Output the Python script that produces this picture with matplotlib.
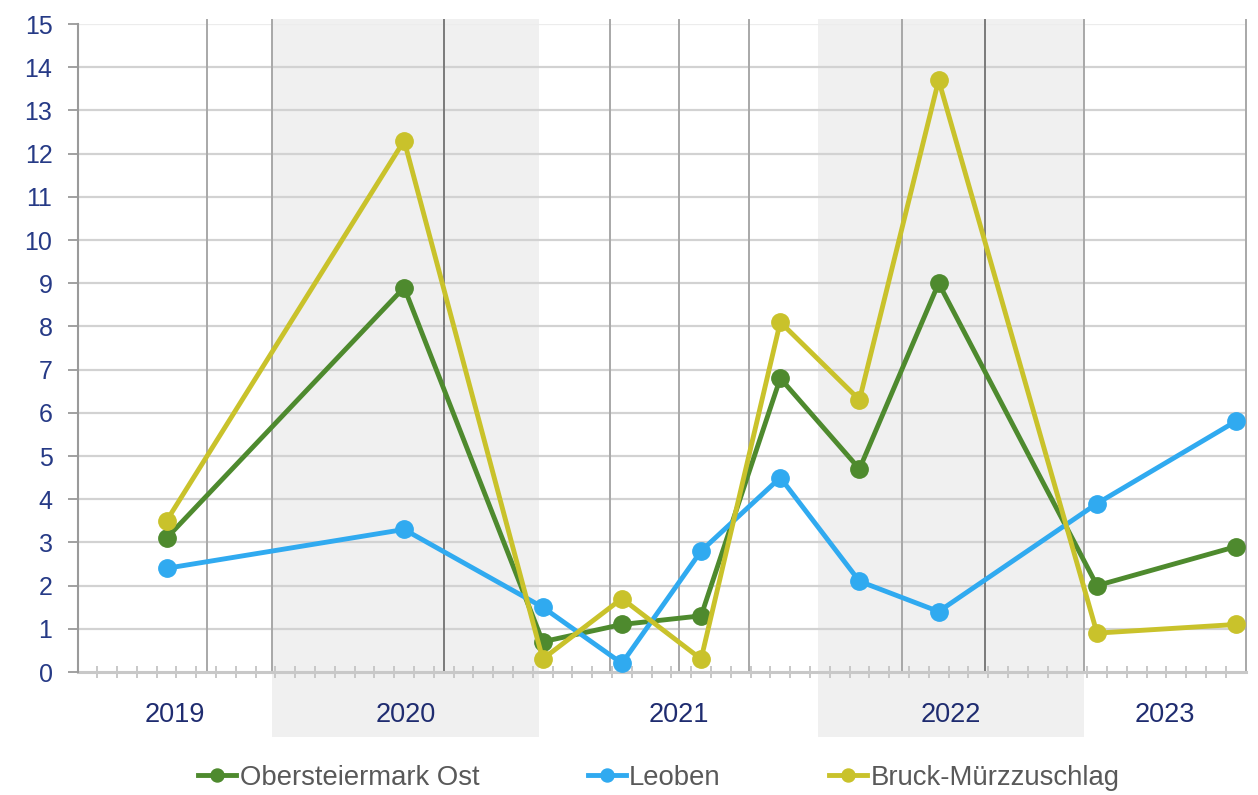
import numpy as np
import matplotlib.pyplot as plt
import matplotlib.transforms as mtransforms
from matplotlib.patches import Rectangle

plt.rcParams['font.family'] = ['Liberation Sans', 'DejaVu Sans']

# DATA - x AXIS IS 59 SLOTS, POINTS SIT IN THE MIDDLE OF THEIR SLOT
slots = [4, 16, 23, 27, 31, 35, 39, 43, 51, 58]
ober_ost = [3.1, 8.9, 0.7, 1.1, 1.3, 6.8, 4.7, 9.0, 2.0, 2.9]
leoben = [2.4, 3.3, 1.5, 0.2, 2.8, 4.5, 2.1, 1.4, 3.9, 5.8]
bruck = [3.5, 12.3, 0.3, 1.7, 0.3, 8.1, 6.3, 13.7, 0.9, 1.1]
series_names = ['Obersteiermark Ost', 'Leoben', 'Bruck-Mürzzuschlag']

# YEAR BANDS (IN SLOT UNITS) AND VERTICAL GRIDLINES
years = ['2019', '2020', '2021', '2022', '2023']
year_edges = [0, 9.82, 23.33, 37.41, 50.86, 59]
shaded_years = ['2020', '2022']
vlines = [6.54, 9.82, 18.49, 26.90, 30.40, 33.94, 41.67, 45.86, 50.86, 59.0]
vline_dark = [False, False, True, False, False, False, False, True, False, False]

colors = ['#4e8a2e', '#30aaf0', '#c9c22b']
label_col = '#263a86'

fig = plt.figure(figsize=(12.58, 7.95), dpi=100)
ax = fig.add_axes([77.5 / 1258, 123 / 795, 1168 / 1258, 648 / 795])

x = np.array(slots) + 0.5
trans = mtransforms.blended_transform_factory(ax.transData, ax.transAxes)

# SHADED YEAR BANDS (REACH DOWN BEHIND THE YEAR LABELS)
for i, yr in enumerate(years):
    if yr in shaded_years:
        ax.add_patch(Rectangle((year_edges[i], -0.1), year_edges[i + 1] - year_edges[i], 1.108,
                               transform=trans, facecolor='#f0f0f0', edgecolor='none',
                               clip_on=False, zorder=0))
    ax.text((year_edges[i] + year_edges[i + 1]) / 2, -0.066, yr, transform=trans,
            ha='center', va='center', fontsize=19.5, color='#1f2c70')

# GRIDLINES
for v in range(1, 15):
    ax.axhline(v, color='#d2d2d2', lw=1.6, zorder=1)
ax.axhline(15, color='#ececec', lw=1.6, zorder=1)
for v, dark in zip(vlines, vline_dark):
    ax.plot([v, v], [0, 15.1], color='#7a7a7a' if dark else '#a8a8a8', lw=1.4,
            zorder=1, clip_on=False)

# SERIES
for vals, c, name, z in zip([ober_ost, leoben, bruck], colors, series_names, [3, 4, 5]):
    ax.plot(x, vals, color=c, lw=3.5, marker='o', markersize=12.5, label=name,
            zorder=z, clip_on=False)

ax.set_xlim(0, 59)
ax.set_ylim(0, 15)
ax.set_yticks(range(0, 16))
ax.set_xticks(range(1, 59))
ax.set_xticklabels([])
ax.tick_params(axis='y', direction='out', length=7, width=1.3, color='#9a9a9a',
               pad=11, labelsize=18, labelcolor=label_col)
ax.tick_params(axis='x', direction='inout', length=8, width=1.3, color='#c4c4c4')

for s in ['top', 'right']:
    ax.spines[s].set_visible(False)
ax.spines['left'].set_color('#9a9a9a')
ax.spines['left'].set_linewidth(1.5)
ax.spines['bottom'].set_color('#c8c8c8')
ax.spines['bottom'].set_linewidth(2.2)
ax.spines['bottom'].set_zorder(2)
ax.set_facecolor('none')

fig.legend(loc='center', bbox_to_anchor=(659 / 1258, 17 / 795), ncol=3, frameon=False,
           fontsize=19.8, handlelength=1.38, handletextpad=0.12, columnspacing=3.95,
           labelcolor='#595959', markerscale=0.75)

fig.savefig('out.png', dpi=100)
